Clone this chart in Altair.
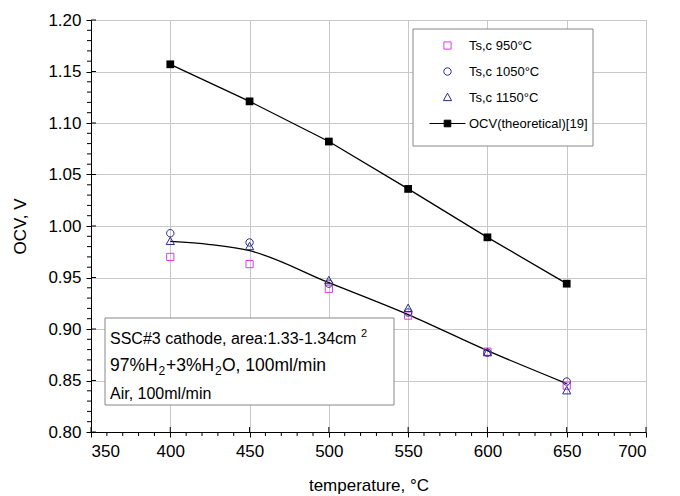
import altair as alt
import pandas as pd

# ---- data ----
temps = [400, 450, 500, 550, 600, 650]
ocv_950 = [0.970, 0.963, 0.939, 0.913, 0.878, 0.845]
ocv_1050 = [0.993, 0.984, 0.944, 0.916, 0.877, 0.849]
ocv_1150 = [0.985, 0.980, 0.947, 0.920, 0.877, 0.840]
ocv_theory = [1.157, 1.121, 1.082, 1.036, 0.989, 0.944]
fit_temps = [400, 425, 450, 500, 550, 600, 650]
fit_ocv = [0.985, 0.982, 0.976, 0.945, 0.914, 0.879, 0.847]

series_names = ["Ts,c 950°C", "Ts,c 1050°C", "Ts,c 1150°C", "OCV(theoretical)[19]"]
series_stroke = ["#e03ce0", "#2b2b8f", "#2b2b8f", "#000000"]
series_fill = ["transparent", "transparent", "transparent", "#000000"]
series_shape = [
    "M-0.36,-0.36H0.36V0.36H-0.36Z",
    "M0.37,0A0.37,0.37 0 1,1 -0.37,0A0.37,0.37 0 1,1 0.37,0Z",
    "M0,-0.43L0.41,0.31L-0.41,0.31Z",
    "M-1.8,0H1.8M-0.33,-0.33H0.33V0.33H-0.33Z",
]

x_major = [350, 400, 450, 500, 550, 600, 650, 700]
x_minor = [t for t in range(350, 701, 10) if t % 50 != 0]
y_major = [0.80, 0.85, 0.90, 0.95, 1.00, 1.05, 1.10, 1.15, 1.20]
y_minor = [round(0.80 + 0.01 * i, 2) for i in range(41) if i % 5 != 0]

# annotation text pieces: (text, x, baseline y, font size)
note_pieces = [
    ("SSC#3 cathode, area:1.33-1.34cm", 19, 324, 16),
    ("2", 270, 317, 11),
    ("97%H", 19, 351, 17.5),
    ("2", 67.5, 355, 12),
    ("+3%H", 75, 351, 17.5),
    ("2", 124, 355, 12),
    ("O, 100ml/min", 131, 351, 17.5),
    ("Air, 100ml/min", 19, 379, 16),
]

W, H = 555, 412
FONT = "Liberation Sans"

meas = pd.DataFrame({
    "temp": temps * 3,
    "ocv": ocv_950 + ocv_1050 + ocv_1150,
    "series": [series_names[0]] * 6 + [series_names[1]] * 6 + [series_names[2]] * 6,
})
theo = pd.DataFrame({"temp": temps, "ocv": ocv_theory})
fit = pd.DataFrame({"temp": fit_temps, "ocv": fit_ocv})
xmin_df = pd.DataFrame({"temp": x_minor})
xmaj_df = pd.DataFrame({"temp": x_major})
ymin_df = pd.DataFrame({"ocv": y_minor})
ymaj_df = pd.DataFrame({"ocv": y_major})
one = pd.DataFrame({"k": [0]})

xscale = alt.Scale(domain=[350, 700], nice=False, zero=False)
yscale = alt.Scale(domain=[0.80, 1.20], nice=False, zero=False)

X = alt.X("temp:Q", scale=xscale, axis=alt.Axis(values=x_major, title="temperature, °C",
                                                 format="d", labelPadding=6, titlePadding=18))
Y = alt.Y("ocv:Q", scale=yscale, axis=alt.Axis(values=y_major, title="OCV, V", format=".2f",
                                               labelPadding=5, titlePadding=18))

leg = alt.Legend(title=None, orient="none", legendX=346, legendY=15, symbolSize=400,
                 symbolStrokeWidth=1, labelFontSize=13, labelFont=FONT, labelColor="#000",
                 rowPadding=8, labelOffset=11, padding=0)

legend_box = alt.Chart(one).mark_rect(fill="white", stroke="#888888", strokeWidth=1).encode(
    x=alt.value(322), x2=alt.value(502), y=alt.value(9), y2=alt.value(126))
note_box = alt.Chart(one).mark_rect(fill="white", stroke="#888888", strokeWidth=1).encode(
    x=alt.value(14), x2=alt.value(303), y=alt.value(298), y2=alt.value(385))

theo_line = alt.Chart(theo).mark_line(color="black", strokeWidth=1.3).encode(x=X, y=Y)
theo_pts = alt.Chart(theo).mark_square(color="black", size=60, opacity=1).encode(x=X, y=Y)
fit_line = alt.Chart(fit).mark_line(color="black", strokeWidth=1.3, interpolate="monotone").encode(x=X, y=Y)

pts = alt.Chart(meas).mark_point(filled=True, size=400, strokeWidth=1, opacity=1).encode(
    x=X, y=Y,
    shape=alt.Shape("series:N", scale=alt.Scale(domain=series_names, range=series_shape), legend=leg),
    fill=alt.Fill("series:N", scale=alt.Scale(domain=series_names, range=series_fill), legend=leg),
    stroke=alt.Stroke("series:N", scale=alt.Scale(domain=series_names, range=series_stroke), legend=leg),
)

xminor = alt.Chart(xmin_df).mark_rule(color="black", strokeWidth=1).encode(
    x=alt.X("temp:Q", scale=xscale), y=alt.value(H), y2=alt.value(H + 4))
xmajin = alt.Chart(xmaj_df).mark_rule(color="black", strokeWidth=1).encode(
    x=alt.X("temp:Q", scale=xscale), y=alt.value(H - 5), y2=alt.value(H))
yminor = alt.Chart(ymin_df).mark_rule(color="black", strokeWidth=1).encode(
    y=alt.Y("ocv:Q", scale=yscale), x=alt.value(-4), x2=alt.value(0))
ymajin = alt.Chart(ymaj_df).mark_rule(color="black", strokeWidth=1).encode(
    y=alt.Y("ocv:Q", scale=yscale), x=alt.value(0), x2=alt.value(5))

notes = [
    alt.Chart(one).mark_text(align="left", baseline="alphabetic", font=FONT, fontSize=s, color="black").encode(
        x=alt.value(xx), y=alt.value(yy), text=alt.value(t))
    for t, xx, yy, s in note_pieces
]

chart = alt.layer(
    legend_box, note_box, xminor, xmajin, yminor, ymajin,
    theo_line, theo_pts, fit_line, pts, *notes
).properties(
    width=W, height=H,
    background="white",
    autosize=alt.AutoSizeParams(type="none"),
    padding={"left": 83, "top": 12, "right": 26, "bottom": 64},
).configure_view(stroke="#c8c8c8").configure_axis(
    grid=True, gridColor="#c8c8c8", gridWidth=1,
    domainColor="black", domainWidth=1, tickColor="black", tickSize=5, tickWidth=1,
    labelFont=FONT, labelFontSize=17, labelColor="black",
    titleFont=FONT, titleFontSize=17, titleFontWeight="normal", titleColor="black",
)

chart.save("out.html", embed_options={"renderer": "svg", "actions": False})
